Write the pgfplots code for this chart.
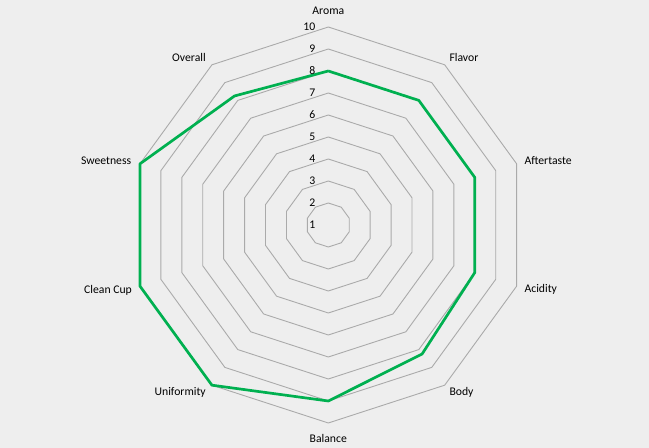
\documentclass[border=0pt]{standalone}
\usepackage{fontspec}
\setmainfont{Carlito}
\usepackage{pgfplots}
\usepackage{pgfplotstable}
\pgfplotsset{compat=1.18}
\definecolor{bgc}{RGB}{238,238,238}
\definecolor{ringc}{RGB}{170,170,170}
\definecolor{cupping}{RGB}{0,176,80}

% angle (deg, clockwise from Aroma) and cupping score; Aroma repeated to close
\pgfplotstableread{
angle score
90 8
54 8
18 8
-18 8
-54 8.25
-90 9
-126 10
-162 10
-198 10
-234 8.25
-270 8
}\scores

\begin{document}
\begin{tikzpicture}
\begin{axis}[
  x=22bp, y=22bp,
  xmin=-14.923, xmax=14.577, ymin=-10.136, ymax=10.227,
  axis line style={draw=none}, ticks=none,
  axis background/.style={fill=bgc},
  clip=false,
  font=\fontsize{11.7bp}{14bp}\selectfont,
]
% rings for 2..10 (centre is 1)
\pgfplotsinvokeforeach{1,...,9}{
  \addplot[ringc, line width=0.9bp, data cs=polar] table[x=angle, y expr=#1] {\scores};
}
\addplot[cupping, line width=2.7bp, line join=round, data cs=polar]
  table[x=angle, y expr=\thisrow{score}-1] {\scores};

\pgfplotsinvokeforeach{0,...,9}{
  \node[anchor=east, inner sep=0pt] at (axis cs:-0.58,#1) {\the\numexpr#1+1\relax};
}

\node[inner sep=0pt] at (axis cs:0,9.74) {Aroma};
\node[anchor=west, inner sep=0pt] at (axis cs:5.5,7.6) {Flavor};
\node[anchor=west, inner sep=0pt] at (axis cs:8.91,2.91) {Aftertaste};
\node[anchor=west, inner sep=0pt] at (axis cs:8.91,-2.92) {Acidity};
\node[anchor=west, inner sep=0pt] at (axis cs:5.5,-7.62) {Body};
\node[inner sep=0pt] at (axis cs:0,-9.72) {Balance};
\node[anchor=east, inner sep=0pt] at (axis cs:-5.56,-7.62) {Uniformity};
\node[anchor=east, inner sep=0pt] at (axis cs:-8.92,-2.95) {Clean Cup};
\node[anchor=east, inner sep=0pt] at (axis cs:-8.95,2.91) {Sweetness};
\node[anchor=east, inner sep=0pt] at (axis cs:-5.56,7.6) {Overall};
\end{axis}
\end{tikzpicture}
\end{document}
